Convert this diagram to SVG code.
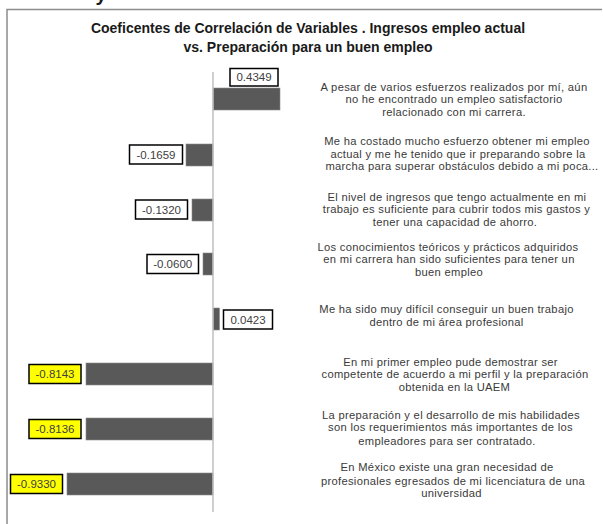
<svg xmlns="http://www.w3.org/2000/svg" width="603" height="524" viewBox="0 0 603 524">
<style>
.bg{fill:#ffffff}
.frame{fill:none;stroke:#8c8c8c;stroke-width:1.5}
.axis{stroke:#bfbfbf;stroke-width:1.5}
.bar{fill:#595959;stroke:#8a8a8a;stroke-width:0.6}
.box{fill:#ffffff;stroke:#000000;stroke-width:1.5}
.ybox{fill:#ffff00;stroke:#000000;stroke-width:1.5}
.val{font-family:"Liberation Sans",Arial,sans-serif;font-size:11.5px;fill:#404040;text-anchor:middle}
.desc{font-family:"Liberation Sans",Arial,sans-serif;font-size:11.2px;letter-spacing:0.3px;fill:#3a3a3a;text-anchor:middle}
.title{font-family:"Liberation Sans",Arial,sans-serif;font-size:14px;font-weight:bold;fill:#1a1a1a;text-anchor:middle}
</style>
<rect class="bg" x="0" y="0" width="603" height="524"/>
<text x="101" y="0.5" style="font-family:'Liberation Sans',Arial,sans-serif;font-size:20px;font-weight:bold;fill:#1a1a1a;text-anchor:middle">y</text>
<path class="frame" d="M7,524 V9.5 H602"/>
<g id="title">
<text class="title" x="308" y="33">Coeficentes de Correlación de Variables . Ingresos empleo actual</text>
<text class="title" x="308" y="52">vs. Preparación para un buen empleo</text>
</g>
<g id="row1">
<rect class="bar" x="213" y="88" width="67" height="22"/>
<rect class="box" x="230" y="68.5" width="48" height="17.5"/>
<text class="val" x="254" y="81.3">0.4349</text>
<text class="desc" x="454" y="90.7">A pesar de varios esfuerzos realizados por mí, aún</text>
<text class="desc" x="454" y="103.3">no he encontrado un empleo satisfactorio</text>
<text class="desc" x="454" y="116.3">relacionado con mi carrera.</text>
</g>
<g id="row2">
<rect class="bar" x="186" y="144" width="27" height="22"/>
<rect class="box" x="129.5" y="145" width="53" height="19"/>
<text class="val" x="156" y="158.8">-0.1659</text>
<text class="desc" x="457" y="145">Me ha costado mucho esfuerzo obtener mi empleo</text>
<text class="desc" x="458" y="157.5">actual y me he tenido que ir preparando sobre la</text>
<text class="desc" x="462" y="170">marcha para superar obstáculos debido a mi poca...</text>
</g>
<g id="row3">
<rect class="bar" x="192" y="199" width="21" height="22"/>
<rect class="box" x="135.5" y="200" width="52" height="19"/>
<text class="val" x="161.5" y="213.8">-0.1320</text>
<text class="desc" x="457" y="200.7">El nivel de ingresos que tengo actualmente en mi</text>
<text class="desc" x="456.5" y="213">trabajo es suficiente para cubrir todos mis gastos y</text>
<text class="desc" x="455" y="225.7">tener una capacidad de ahorro.</text>
</g>
<g id="row4">
<rect class="bar" x="203" y="253" width="10" height="22"/>
<rect class="box" x="147" y="254.5" width="51.5" height="19"/>
<text class="val" x="172.7" y="268.3">-0.0600</text>
<text class="desc" x="448" y="250.7">Los conocimientos teóricos y prácticos adquiridos</text>
<text class="desc" x="449" y="263.3">en mi carrera han sido suficientes para tener un</text>
<text class="desc" x="449" y="276.3">buen empleo</text>
</g>
<g id="row5">
<rect class="bar" x="213" y="308" width="6.5" height="22"/>
<rect class="box" x="223.5" y="310" width="49" height="19"/>
<text class="val" x="248" y="323.8">0.0423</text>
<text class="desc" x="446.5" y="313.3">Me ha sido muy difícil conseguir un buen trabajo</text>
<text class="desc" x="446.5" y="325.7">dentro de mi área profesional</text>
</g>
<g id="row6">
<rect class="bar" x="86" y="363" width="127" height="22"/>
<rect class="ybox" x="29" y="364.5" width="52" height="19"/>
<text class="val" x="55" y="378.3">-0.8143</text>
<text class="desc" x="450.5" y="365.7">En mi primer empleo pude demostrar ser</text>
<text class="desc" x="455" y="378">competente de acuerdo a mi perfil y la preparación</text>
<text class="desc" x="454.5" y="390.7">obtenida en la UAEM</text>
</g>
<g id="row7">
<rect class="bar" x="86" y="418" width="127" height="22"/>
<rect class="ybox" x="29" y="419.5" width="52" height="19"/>
<text class="val" x="55" y="433.3">-0.8136</text>
<text class="desc" x="451" y="419">La preparación y el desarrollo de mis habilidades</text>
<text class="desc" x="450.5" y="431.3">son los requerimientos más importantes de los</text>
<text class="desc" x="447" y="444.7">empleadores para ser contratado.</text>
</g>
<g id="row8">
<rect class="bar" x="67" y="473" width="146" height="22"/>
<rect class="ybox" x="10.5" y="474.5" width="52" height="19"/>
<text class="val" x="36.5" y="488.3">-0.9330</text>
<text class="desc" x="447" y="471.3">En México existe una gran necesidad de</text>
<text class="desc" x="453" y="484.7">profesionales egresados de mi licenciatura de una</text>
<text class="desc" x="451.5" y="497.3">universidad</text>
</g>
<g id="connectors">
<line class="axis" x1="213" y1="72" x2="213" y2="512"/>
</g>
</svg>
